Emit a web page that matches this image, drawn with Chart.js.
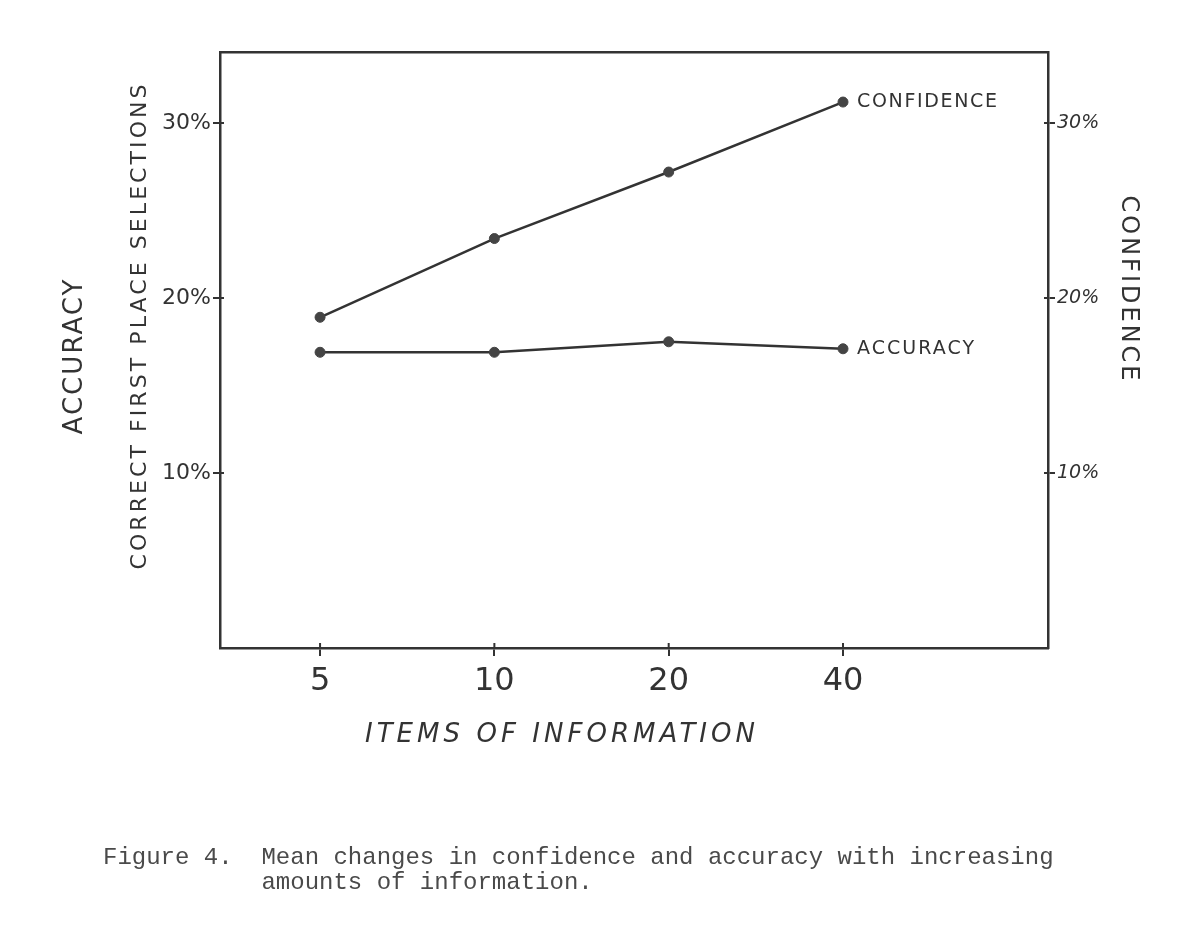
<!DOCTYPE html>
<html>
<head>
<meta charset="utf-8">
<script src="https://cdn.jsdelivr.net/npm/chart.js@4"></script>
<style>
  body { margin: 0; background: #fff; }
  #wrap { position: relative; width: 1200px; height: 927px; }
  #caption {
    position: absolute; left: 103px; top: 845px; margin: 0;
    font-family: "Liberation Mono", "DejaVu Sans Mono", monospace;
    font-size: 24px; line-height: 25px; color: #4a4a4a;
  }
</style>
</head>
<body>
<div id="wrap">
  <canvas id="chart" width="1200" height="927"></canvas>
<pre id="caption">Figure 4.  Mean changes in confidence and accuracy with increasing
           amounts of information.</pre>
</div>
<script>
// values
const items = ['5', '10', '20', '40'];
const confidence = [18.9, 23.4, 27.2, 31.2];
const accuracy = [16.9, 16.9, 17.5, 17.1];
const yTicks = [10, 20, 30];

const ink = '#333';
const hand = '"DejaVu Sans", sans-serif';

function toPoints(values) {
    return values.map((v, i) => ({ x: i, y: v }));
}

// draw text stretched with letter spacing to a given width
function spacedText(ctx, text, x, y, rot, font, width) {
    ctx.save();
    ctx.font = font;
    ctx.fillStyle = ink;
    ctx.textAlign = 'center';
    ctx.textBaseline = 'middle';
    const w = ctx.measureText(text).width;
    const gap = (width - w) / Math.max(text.length - 1, 1);
    ctx.letterSpacing = gap.toFixed(2) + 'px';
    ctx.translate(x, y);
    ctx.rotate(rot);
    // letterSpacing adds a trailing gap, shift it back
    ctx.fillText(text, gap / 2, 0);
    ctx.restore();
}

const labelsPlugin = {
    id: 'handLabels',
    afterDraw(chart) {
        const ctx = chart.ctx;
        spacedText(ctx, 'ACCURACY', 75, 357, -Math.PI / 2, '26px ' + hand, 155);
        spacedText(ctx, 'CORRECT FIRST PLACE SELECTIONS', 140, 327, -Math.PI / 2, '22px ' + hand, 485);
        spacedText(ctx, 'CONFIDENCE', 1128, 288, Math.PI / 2, '24px ' + hand, 185);
        spacedText(ctx, 'ITEMS OF INFORMATION', 560, 735, 0, 'italic 26px ' + hand, 390);

        // series names next to the last point of each line
        const names = ['CONFIDENCE', 'ACCURACY'];
        const widths = [140, 117];
        chart.data.datasets.forEach((ds, i) => {
            const pts = chart.getDatasetMeta(i).data;
            const last = pts[pts.length - 1];
            spacedText(ctx, names[i], last.x + 14 + widths[i] / 2, last.y, 0, '19px ' + hand, widths[i]);
        });
    }
};

// the hand drawn ticks cross the axis line, add the inner half
const crossTicks = {
    id: 'crossTicks',
    afterDraw(chart) {
        const ctx = chart.ctx;
        const area = chart.chartArea;
        ctx.save();
        ctx.strokeStyle = ink;
        ctx.lineWidth = 2;
        ctx.beginPath();
        chart.scales.x.ticks.forEach(t => {
            const px = chart.scales.x.getPixelForValue(t.value);
            ctx.moveTo(px, area.bottom);
            ctx.lineTo(px, area.bottom - 5);
        });
        ['y', 'y2'].forEach(id => {
            const s = chart.scales[id];
            const edge = id === 'y' ? area.left : area.right;
            const dir = id === 'y' ? 1 : -1;
            s.ticks.forEach(t => {
                const py = s.getPixelForValue(t.value);
                ctx.moveTo(edge, py);
                ctx.lineTo(edge + dir * 4, py);
            });
        });
        ctx.stroke();
        ctx.restore();
    }
};

const axisColor = { color: ink, width: 2.5 };

new Chart(document.getElementById('chart'), {
    type: 'line',
    data: {
        datasets: [
            { label: 'Confidence', data: toPoints(confidence) },
            { label: 'Accuracy', data: toPoints(accuracy) }
        ]
    },
    options: {
        responsive: false,
        animation: false,
        layout: { padding: 0 },
        elements: {
            line: { borderColor: ink, borderWidth: 2.5, tension: 0 },
            point: { radius: 5, backgroundColor: '#444', borderColor: '#444', borderWidth: 1 }
        },
        plugins: {
            legend: { display: false },
            tooltip: { enabled: false }
        },
        scales: {
            x: {
                type: 'linear',
                position: 'bottom',
                min: -0.574,
                max: 4.176,
                afterBuildTicks: s => { s.ticks = items.map((_, i) => ({ value: i })); },
                afterFit: s => { s.height = 279; },
                ticks: {
                    callback: v => items[v],
                    color: ink,
                    font: { family: hand, size: 32 },
                    padding: 6
                },
                grid: { drawOnChartArea: false, color: ink, lineWidth: 2, tickLength: 8 },
                border: axisColor
            },
            xTop: {
                type: 'linear',
                position: 'top',
                min: 0,
                max: 1,
                afterFit: s => { s.height = 52; },
                ticks: { display: false },
                grid: { display: false },
                border: axisColor
            },
            y: {
                position: 'left',
                min: 0,
                max: 34.06,
                afterBuildTicks: s => { s.ticks = yTicks.map(v => ({ value: v })); },
                afterFit: s => { s.width = 220; },
                ticks: {
                    callback: v => v + '%',
                    color: ink,
                    font: { family: hand, size: 22 },
                    padding: 2
                },
                grid: { drawOnChartArea: false, color: ink, lineWidth: 2, tickLength: 7 },
                border: axisColor
            },
            y2: {
                position: 'right',
                min: 0,
                max: 34.06,
                afterBuildTicks: s => { s.ticks = yTicks.map(v => ({ value: v })); },
                afterFit: s => { s.width = 152; },
                ticks: {
                    callback: v => v + '%',
                    color: ink,
                    font: { family: hand, size: 19, style: 'italic' },
                    padding: 2
                },
                grid: { drawOnChartArea: false, color: ink, lineWidth: 2, tickLength: 7 },
                border: axisColor
            }
        }
    },
    plugins: [labelsPlugin, crossTicks]
});
</script>
</body>
</html>
